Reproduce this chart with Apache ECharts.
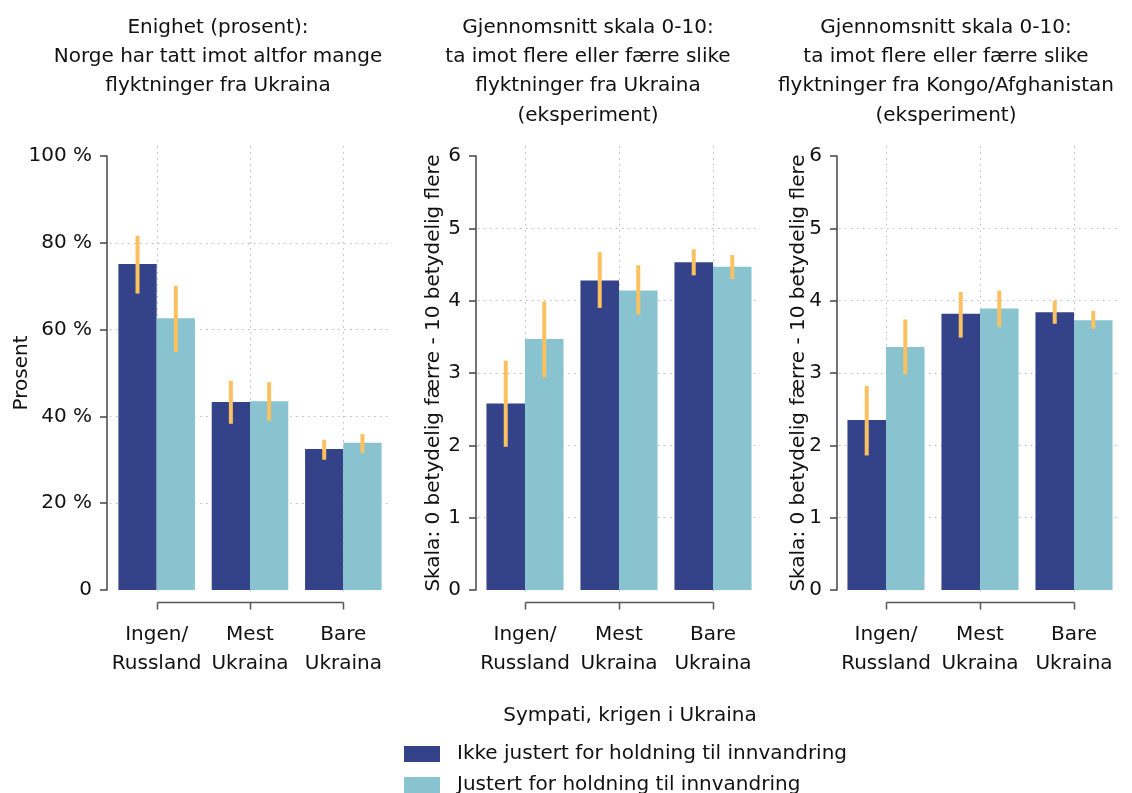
<!DOCTYPE html>
<html>
<head>
<meta charset="UTF-8">
<title>Flyktninger fra Ukraina</title>
<script src="https://cdn.jsdelivr.net/npm/echarts@6/dist/echarts.min.js"></script>
<style>
  html, body { margin: 0; padding: 0; background: #fff; }
  #main { width: 1132px; height: 793px; }
</style>
</head>
<body>
<div id="main"></div>
<script type="text/javascript">
    // kategorier og serienavn
    var categories = ['Ingen/\nRussland', 'Mest\nUkraina', 'Bare\nUkraina'];
    var nameRaw = 'Ikke justert for holdning til innvandring';
    var nameAdj = 'Justert for holdning til innvandring';

    // panel 1: enighet i prosent
    var p1Raw = [75.1, 43.3, 32.5];
    var p1RawLow = [68.3, 38.3, 30.0];
    var p1RawHigh = [81.6, 48.2, 34.6];
    var p1Adj = [62.6, 43.5, 33.9];
    var p1AdjLow = [54.8, 39.0, 31.6];
    var p1AdjHigh = [70.1, 47.9, 35.9];

    // panel 2: skala 0-10, Ukraina
    var p2Raw = [2.58, 4.28, 4.53];
    var p2RawLow = [1.98, 3.90, 4.35];
    var p2RawHigh = [3.17, 4.67, 4.71];
    var p2Adj = [3.47, 4.14, 4.47];
    var p2AdjLow = [2.94, 3.81, 4.30];
    var p2AdjHigh = [3.99, 4.49, 4.63];

    // panel 3: skala 0-10, Kongo/Afghanistan
    var p3Raw = [2.35, 3.82, 3.84];
    var p3RawLow = [1.86, 3.49, 3.68];
    var p3RawHigh = [2.82, 4.12, 4.00];
    var p3Adj = [3.36, 3.89, 3.73];
    var p3AdjLow = [2.98, 3.64, 3.61];
    var p3AdjHigh = [3.74, 4.14, 3.86];

    var titles = [
        'Enighet (prosent):\nNorge har tatt imot altfor mange\nflyktninger fra Ukraina',
        'Gjennomsnitt skala 0-10:\nta imot flere eller færre slike\nflyktninger fra Ukraina\n(eksperiment)',
        'Gjennomsnitt skala 0-10:\nta imot flere eller færre slike\nflyktninger fra Kongo/Afghanistan\n(eksperiment)'
    ];
    var yNames = ['Prosent', 'Skala: 0 betydelig færre - 10 betydelig flere', 'Skala: 0 betydelig færre - 10 betydelig flere'];

    var FONT = 'DejaVu Sans, Liberation Sans, sans-serif';
    var FS = 20;
    var DARK = '#344389';
    var LIGHT = '#88c3cf';
    var ERR = '#fbc160';
    var GAP = 0.18;

    var grids = [
        {left: 110, top: 156, width: 280, height: 434},
        {left: 478, top: 156, width: 282, height: 434},
        {left: 839, top: 156, width: 282, height: 434}
    ];

    // feilstolpe midt på stolpen (side -1 venstre, +1 høyre)
    function errorItem(side) {
        return function (params, api) {
            var lo = api.coord([api.value(0), api.value(1)]);
            var hi = api.coord([api.value(0), api.value(2)]);
            var band = api.size([1, 0])[0];
            var barW = band * (1 - GAP) / 2;
            var x = lo[0] + side * barW / 2;
            return {
                type: 'rect',
                shape: {x: x - 2, y: hi[1], width: 4, height: lo[1] - hi[1]},
                style: {fill: ERR}
            };
        };
    }

    // stiplete loddrette linjer bak stolpene
    function gridLines(max) {
        return function (params, api) {
            var children = [];
            var top = api.coord([0, max])[1] - 10;
            var base = api.coord([0, 0])[1];
            for (var i = 0; i < categories.length; i++) {
                var x = Math.round(api.coord([i, 0])[0]) + 0.5;
                children.push({
                    type: 'line',
                    shape: {x1: x, y1: top, x2: x, y2: base + 6},
                    style: {stroke: '#bbb', lineWidth: 1, lineDash: [1.5, 4.5]}
                });
            }
            return {type: 'group', children: children};
        };
    }
    // klamme under x-aksen
    function bracket(params, api) {
        var base = api.coord([0, 0])[1] + 12.5;
        var x0 = Math.round(api.coord([0, 0])[0]) + 0.5;
        var x2 = Math.round(api.coord([categories.length - 1, 0])[0]) + 0.5;
        var children = [{
            type: 'line',
            shape: {x1: x0, y1: base, x2: x2, y2: base},
            style: {stroke: '#555', lineWidth: 1.5}
        }];
        for (var i = 0; i < categories.length; i++) {
            var x = Math.round(api.coord([i, 0])[0]) + 0.5;
            children.push({
                type: 'line',
                shape: {x1: x, y1: base, x2: x, y2: base + 7},
                style: {stroke: '#555', lineWidth: 1.5}
            });
        }
        return {type: 'group', children: children};
    }

    function errData(low, high) {
        return low.map(function (v, i) { return [i, v, high[i]]; });
    }

    var panels = [
        {raw: p1Raw, rawLo: p1RawLow, rawHi: p1RawHigh, adj: p1Adj, adjLo: p1AdjLow, adjHi: p1AdjHigh, max: 100, interval: 20, offset: 3, nameGap: 75},
        {raw: p2Raw, rawLo: p2RawLow, rawHi: p2RawHigh, adj: p2Adj, adjLo: p2AdjLow, adjHi: p2AdjHigh, max: 6, interval: 1, offset: 2, nameGap: 32},
        {raw: p3Raw, rawLo: p3RawLow, rawHi: p3RawHigh, adj: p3Adj, adjLo: p3AdjLow, adjHi: p3AdjHigh, max: 6, interval: 1, offset: 2, nameGap: 28}
    ];

    var titleCenters = [213, 583, 941];

    var xAxes = [], yAxes = [], series = [], titleList = [];
    panels.forEach(function (p, k) {
        titleList.push({
            text: titles[k],
            left: titleCenters[k],
            top: 8,
            textAlign: 'center',
            textStyle: {fontFamily: FONT, fontSize: FS, fontWeight: 'normal', color: '#111', lineHeight: 29.3}
        });
        xAxes.push({
            type: 'category',
            gridIndex: k,
            data: categories,
            axisLine: {show: false},
            axisTick: {show: false},
            axisLabel: {interval: 0, margin: 30, fontFamily: FONT, fontSize: FS, color: '#111', lineHeight: 29}
        });
        yAxes.push({
            type: 'value',
            gridIndex: k,
            min: 0,
            max: p.max,
            interval: p.interval,
            offset: p.offset,
            name: yNames[k],
            nameLocation: 'middle',
            nameGap: p.nameGap,
            nameMoveOverlap: false,
            nameTextStyle: {fontFamily: FONT, fontSize: FS, color: '#111'},
            axisLine: {show: true, lineStyle: {color: '#444', width: 1.5}},
            axisTick: {show: true, length: 7, lineStyle: {color: '#444', width: 1.5}},
            axisLabel: {
                margin: 15,
                fontFamily: FONT, fontSize: FS, color: '#111',
                formatter: k === 0 ? function (v) { return v === 0 ? '0' : v + ' %'; } : null
            },
            splitLine: {show: true, showMinLine: false, showMaxLine: false,
                lineStyle: {color: '#bbb', width: 1, type: [1.5, 4.5]}}
        });
        series.push({
            type: 'custom', name: 'grid' + k, xAxisIndex: k, yAxisIndex: k, z: 0, silent: true,
            renderItem: gridLines(p.max), data: [[0, 0]], encode: {x: 0, y: 1}
        });
        series.push({
            type: 'custom', name: 'bracket' + k, xAxisIndex: k, yAxisIndex: k, z: 1, silent: true,
            renderItem: bracket, data: [[0, 0]], encode: {x: 0, y: 1}, clip: false
        });
        series.push({
            type: 'bar', name: nameRaw, xAxisIndex: k, yAxisIndex: k, z: 2,
            barGap: '0%', barCategoryGap: '18%',
            itemStyle: {color: DARK}, data: p.raw
        });
        series.push({
            type: 'bar', name: nameAdj, xAxisIndex: k, yAxisIndex: k, z: 2,
            barGap: '0%', barCategoryGap: '18%',
            itemStyle: {color: LIGHT}, data: p.adj
        });
        series.push({
            type: 'custom', name: 'errRaw' + k, xAxisIndex: k, yAxisIndex: k, z: 3,
            renderItem: errorItem(-1), data: errData(p.rawLo, p.rawHi), encode: {x: 0, y: [1, 2]}
        });
        series.push({
            type: 'custom', name: 'errAdj' + k, xAxisIndex: k, yAxisIndex: k, z: 3,
            renderItem: errorItem(1), data: errData(p.adjLo, p.adjHi), encode: {x: 0, y: [1, 2]}
        });
    });

    titleList.push({
        text: 'Sympati, krigen i Ukraina',
        left: 625,
        top: 701,
        textAlign: 'center',
        textStyle: {fontFamily: FONT, fontSize: FS, fontWeight: 'normal', color: '#111'}
    });

    // én legende per rad, så de ikke brytes i kolonner
    function legendRow(name, top) {
        return {
            data: [name],
            left: 404,
            top: top,
            padding: 0,
            icon: 'rect',
            itemWidth: 36,
            itemHeight: 16,
            textStyle: {fontFamily: FONT, fontSize: FS, lineHeight: 20, color: '#111', padding: [0, 0, 0, 12]}
        };
    }

    var myChart = echarts.init(document.getElementById('main'));
    myChart.setOption({
        animation: false,
        backgroundColor: '#fff',
        title: titleList,
        legend: [legendRow(nameRaw, 744), legendRow(nameAdj, 775)],
        grid: grids,
        xAxis: xAxes,
        yAxis: yAxes,
        series: series
    });
</script>
</body>
</html>
